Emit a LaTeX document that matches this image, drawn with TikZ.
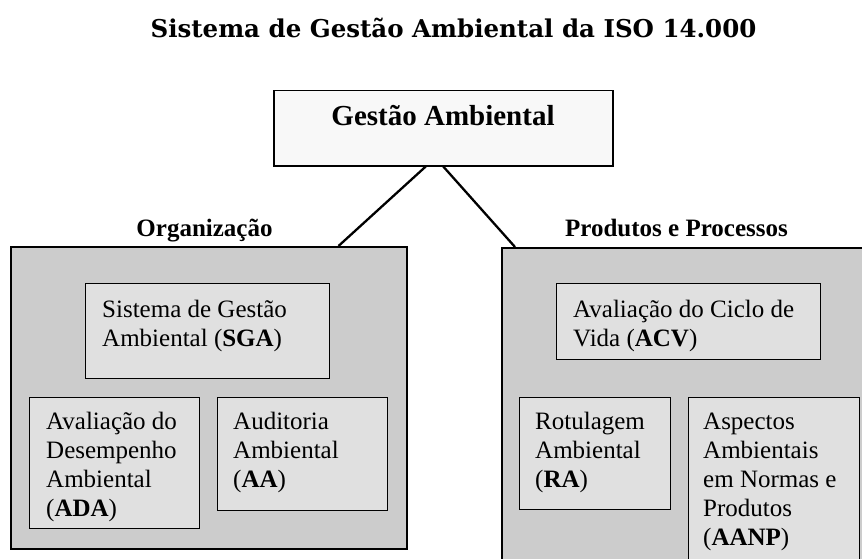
\documentclass[tikz,border=0pt]{standalone}
\usepackage{fontspec}
\usepackage{tikz}
\usetikzlibrary{positioning}
\setmainfont{Liberation Serif}
\newfontfamily\titlefont{DejaVu Serif}
\definecolor{bigGray}{RGB}{204,204,204}
\definecolor{subGray}{RGB}{224,224,224}
\definecolor{topFill}{RGB}{248,248,248}

\tikzset{
  bigbox/.style={draw, line width=1.5pt, fill=bigGray, anchor=north west, inner sep=0pt},
  subbox/.style={draw, line width=1.2pt, fill=subGray, anchor=north west, inner sep=0pt},
  boxtext/.style={font=\fontsize{25}{29}\selectfont, align=left, inner sep=0pt, anchor=north west},
  grouplabel/.style={font=\bfseries\fontsize{25}{30}\selectfont, anchor=base, inner sep=0pt},
}

\begin{document}
\begin{tikzpicture}[x=1pt, y=-1pt]
        \useasboundingbox (0,0) rectangle (862,559);
        \clip (0,0) rectangle (862,559);

        \node[anchor=base, inner sep=0pt, font=\titlefont\bfseries\fontsize{24.5}{30}\selectfont] (title) at (453.5,38) {Sistema de Gestão Ambiental da ISO 14.000};

        \node[draw, line width=1.5pt, fill=topFill, anchor=north west, minimum width=339pt, minimum height=75pt] (gestao) at (273,90) {};
        \node[anchor=base, inner sep=0pt, font=\bfseries\fontsize{29}{34}\selectfont] (gestaoT) at (443,126) {Gestão Ambiental};

        \node[bigbox, minimum width=396pt, minimum height=302pt] (org) at (10,246) {};
        \node[bigbox, minimum width=372pt, minimum height=322pt] (prod) at (501,247) {};
        \node[grouplabel] (orgT) at (204.5,236) {Organização};
        \node[grouplabel] (prodT) at (676.5,236) {Produtos e Processos};

        \draw[line width=2.3pt] ([xshift=-17.5pt]gestao.south) -- ([xshift=-69pt]org.north east);
        \draw[line width=2.3pt] (gestao.south) -- ([xshift=14pt]prod.north west);

        % Organizacao
        \node[subbox, minimum width=244pt, minimum height=95pt] (sga) at (85,283) {};
        \node[subbox, minimum width=170pt, minimum height=131pt] (ada) at (29,397) {};
        \node[subbox, minimum width=170pt, minimum height=113pt] (aa) at (217,397) {};
        \node[boxtext, below right=13.7pt and 17pt of sga.north west] (sgaT) {\strut Sistema de Gestão\\Ambiental (\textbf{SGA})};
        \node[boxtext, below right=11.7pt and 17pt of ada.north west] (adaT) {\strut Avaliação do\\Desempenho\\Ambiental\\(\textbf{ADA})};
        \node[boxtext, below right=11.7pt and 16pt of aa.north west] (aaT) {\strut Auditoria\\Ambiental\\(\textbf{AA})};

        % Produtos e Processos
        \node[subbox, minimum width=264pt, minimum height=76pt] (acv) at (556,283) {};
        \node[subbox, minimum width=151pt, minimum height=112pt] (ra) at (519,397) {};
        \node[subbox, minimum width=171pt, minimum height=172pt] (aanp) at (688,397) {};
        \node[boxtext, below right=13.7pt and 17pt of acv.north west] (acvT) {\strut Avaliação do Ciclo de\\Vida (\textbf{ACV})};
        \node[boxtext, below right=11.7pt and 16pt of ra.north west] (raT) {\strut Rotulagem\\Ambiental\\(\textbf{RA})};
        \node[boxtext, below right=11.7pt and 15pt of aanp.north west] (aanpT) {\strut Aspectos\\Ambientais\\em Normas e\\Produtos\\(\textbf{AANP})};
\end{tikzpicture}
\end{document}
